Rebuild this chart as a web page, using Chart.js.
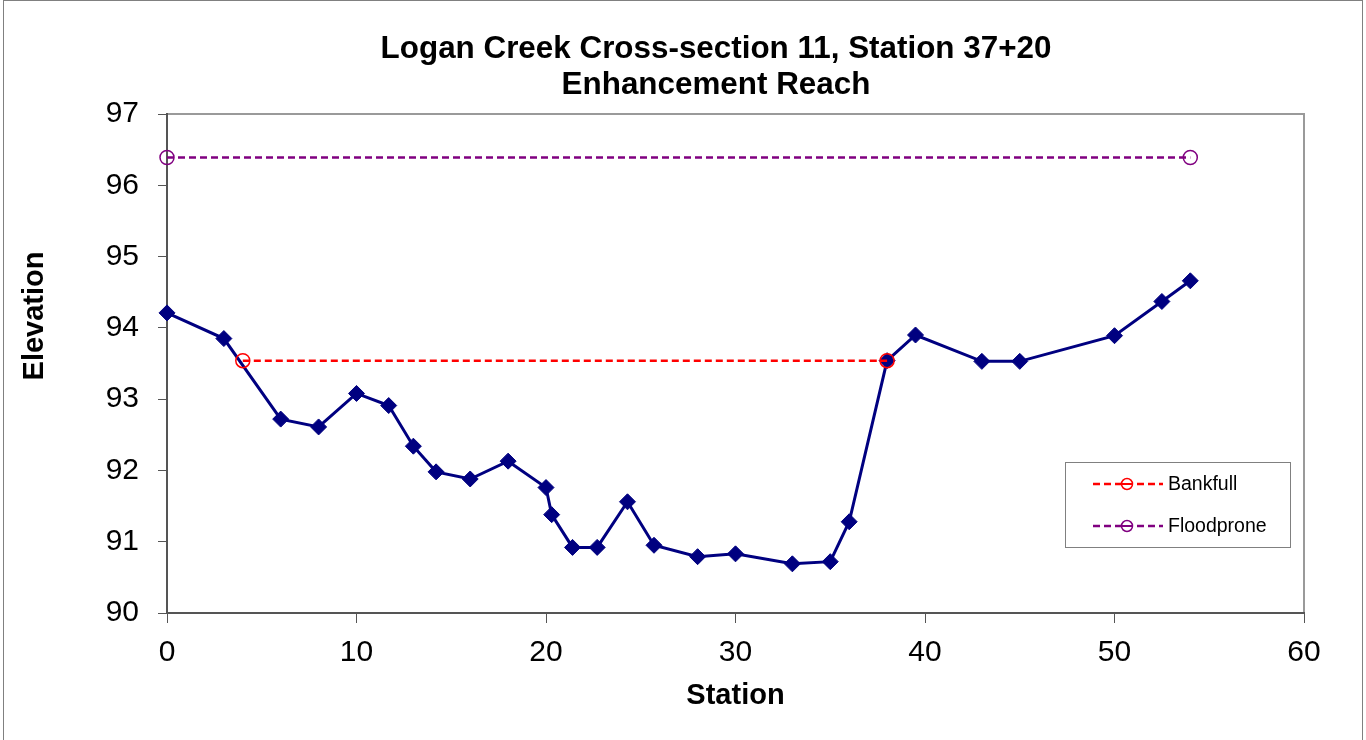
<!DOCTYPE html>
<html lang="en">
<head>
    <meta charset="UTF-8">
    <title>Logan Creek Cross-section 11</title>
    <script src="https://cdn.jsdelivr.net/npm/chart.js"></script>
    <style>
        html, body { margin: 0; padding: 0; background: #fff; }
        canvas { display: block; }
    </style>
</head>
<body>
    <canvas id="xs-chart" width="1366" height="740"></canvas>
    <script>
        // surveyed profile
        const station = [0, 3, 6, 8, 10, 11.7, 13, 14.2, 16, 18, 20, 20.3, 21.4, 22.7, 24.3, 25.7,
                         28, 30, 33, 35, 36, 38, 39.5, 43, 45, 50, 52.5, 54];
        const elevation = [94.21, 93.85, 92.72, 92.61, 93.08, 92.91, 92.34, 91.98, 91.88, 92.13, 91.76, 91.38,
                           90.92, 90.92, 91.56, 90.95, 90.79, 90.83, 90.69, 90.72, 91.28, 93.54, 93.90, 93.53,
                           93.53, 93.89, 94.37, 94.66];
        // water levels
        const bankfullStation = [4, 38];
        const bankfullElev = [93.54, 93.54];
        const floodStation = [0, 54];
        const floodElev = [96.39, 96.39];
        const xTicks = [0, 10, 20, 30, 40, 50, 60];
        const yTicks = [90, 91, 92, 93, 94, 95, 96, 97];

        const FONT = '"Liberation Sans", Arial, sans-serif';
        const pts = (xs, ys) => xs.map((x, i) => ({ x: x, y: ys[i] }));

        const frame = {
            id: 'frame',
            beforeDraw(chart) {
                const c = chart.ctx, a = chart.chartArea;
                c.save();
                c.strokeStyle = '#808080';
                c.lineWidth = 1;
                c.strokeRect(3.5, 0.5, 1359, 746);
                c.strokeStyle = '#9a9a9a';
                c.lineWidth = 2;
                c.strokeRect(a.left, a.top, a.right - a.left, a.bottom - a.top);
                c.restore();
            },
            afterDraw(chart) {
                const c = chart.ctx;
                c.save();
                c.fillStyle = '#000';
                c.textAlign = 'center';
                c.textBaseline = 'alphabetic';
                c.font = 'bold 31.4px ' + FONT;
                c.fillText('Logan Creek Cross-section 11, Station 37+20', 716, 58);
                c.fillText('Enhancement Reach', 716, 94);
                c.translate(43, 316);
                c.rotate(-Math.PI / 2);
                c.font = 'bold 29px ' + FONT;
                c.fillText('Elevation', 0, 0);
                c.restore();

                // legend box
                c.save();
                c.fillStyle = '#fff';
                c.fillRect(1065, 462, 225, 85);
                c.strokeStyle = '#808080';
                c.lineWidth = 1;
                c.strokeRect(1065.5, 462.5, 225, 85);
                const rows = [484, 526];
                chart.data.datasets.filter(d => d.inLegend).forEach((d, i) => {
                    const y = rows[i];
                    c.strokeStyle = d.borderColor;
                    c.lineWidth = 2.5;
                    c.setLineDash([7, 4]);
                    c.beginPath();
                    c.moveTo(1093, y);
                    c.lineTo(1163, y);
                    c.stroke();
                    c.setLineDash([]);
                    c.lineWidth = 1.5;
                    c.beginPath();
                    c.arc(1127, y, 5.5, 0, Math.PI * 2);
                    c.fillStyle = '#fff';
                    c.fill();
                    c.stroke();
                    c.beginPath();
                    c.moveTo(1122, y);
                    c.lineTo(1132, y);
                    c.lineWidth = 2;
                    c.stroke();
                    c.fillStyle = '#000';
                    c.font = '19.5px ' + FONT;
                    c.textAlign = 'left';
                    c.textBaseline = 'middle';
                    c.fillText(d.label, 1168, y + 1);
                });
                c.restore();
            }
        };

        new Chart(document.getElementById('xs-chart'), {
            type: 'line',
            data: {
                datasets: [{
                    label: 'Profile',
                    data: pts(station, elevation),
                    borderColor: '#000080',
                    backgroundColor: '#000080',
                    borderWidth: 3,
                    pointStyle: 'rectRot',
                    pointRadius: 8,
                    pointBorderWidth: 1,
                    clip: false,
                    order: 2
                }, {
                    label: 'Bankfull',
                    inLegend: true,
                    data: pts(bankfullStation, bankfullElev),
                    borderColor: '#ff0000',
                    backgroundColor: 'rgba(0,0,0,0)',
                    borderWidth: 2.5,
                    borderDash: [7, 4],
                    pointStyle: 'circle',
                    pointRadius: 7,
                    pointBorderWidth: 1.5,
                    clip: false,
                    order: 1
                }, {
                    label: 'Floodprone',
                    inLegend: true,
                    data: pts(floodStation, floodElev),
                    borderColor: '#800080',
                    backgroundColor: 'rgba(0,0,0,0)',
                    borderWidth: 2.5,
                    borderDash: [7, 4],
                    pointStyle: 'circle',
                    pointRadius: 7,
                    pointBorderWidth: 1.5,
                    clip: false,
                    order: 1
                }]
            },
            options: {
                responsive: false,
                animation: false,
                layout: { padding: { left: 0, top: 114, right: 62, bottom: 0 } },
                plugins: {
                    legend: { display: false },
                    title: { display: false },
                    tooltip: { enabled: false }
                },
                scales: {
                    x: {
                        type: 'linear',
                        min: 0,
                        max: 60,
                        afterBuildTicks: s => { s.ticks = xTicks.map(v => ({ value: v })); },
                        afterFit: s => { s.height = 127; },
                        border: { color: '#555', width: 2 },
                        grid: { drawOnChartArea: false, tickLength: 10, color: '#555', tickWidth: 1 },
                        ticks: { color: '#000', padding: 12, font: { family: FONT, size: 30 } },
                        title: {
                            display: true,
                            text: 'Station',
                            color: '#000',
                            font: { family: FONT, size: 29, weight: 'bold', lineHeight: 1.2 },
                            padding: { top: 0, bottom: 27 }
                        }
                    },
                    y: {
                        type: 'linear',
                        min: 90,
                        max: 97,
                        afterBuildTicks: s => { s.ticks = yTicks.map(v => ({ value: v })); },
                        afterFit: s => { s.width = 167; },
                        border: { color: '#555', width: 2 },
                        grid: { drawOnChartArea: false, tickLength: 9, color: '#555', tickWidth: 1 },
                        ticks: { color: '#000', padding: 19, font: { family: FONT, size: 30 } }
                    }
                }
            },
            plugins: [frame]
        });
    </script>
</body>
</html>
